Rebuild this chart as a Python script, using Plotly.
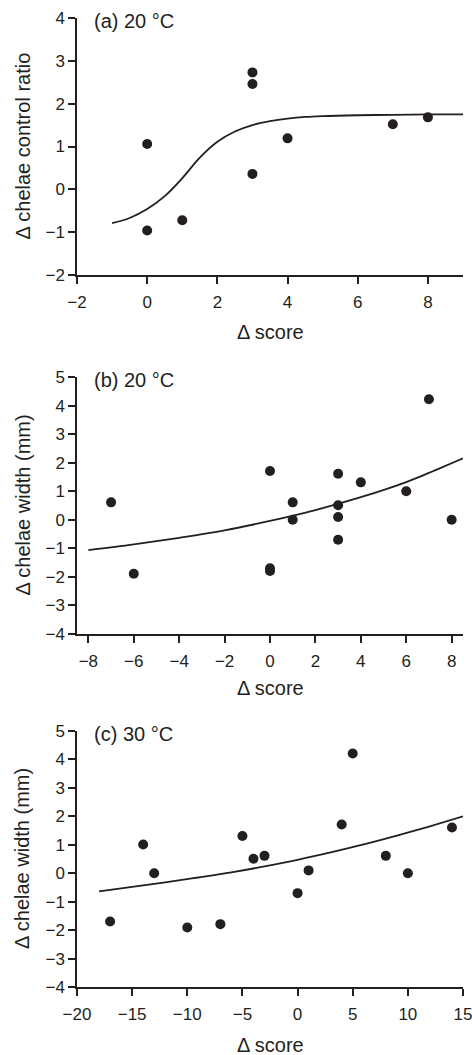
import plotly.graph_objects as go

# ---------------- data ----------------
# Panel (a) 20 °C : Δ score vs Δ chelae control ratio
a_score = [0, 0, 1, 3, 3, 3, 4, 7, 8]
a_ratio = [1.06, -0.96, -0.72, 2.73, 2.46, 0.36, 1.19, 1.52, 1.68]
a_fit_x = [-1, -0.5, 0, 0.5, 1, 1.5, 2, 2.5, 3, 3.5, 4, 4.5, 5, 6, 7, 8, 9]
a_fit_y = [-0.79, -0.67, -0.46, -0.16, 0.26, 0.74, 1.11, 1.35, 1.50, 1.59, 1.65, 1.69, 1.71, 1.73, 1.74, 1.75, 1.75]

# Panel (b) 20 °C : Δ score vs Δ chelae width (mm)
b_score = [-7, -6, 0, 0, 0, 1, 1, 3, 3, 3, 3, 4, 6, 7, 8]
b_width = [0.61, -1.89, 1.71, -1.70, -1.79, 0.61, 0.0, 1.61, 0.51, 0.10, -0.70, 1.31, 1.00, 4.22, 0.0]
b_fit_x = [-8, -6, -4, -2, 0, 2, 4, 6, 7, 8.5]
b_fit_y = [-1.06, -0.86, -0.63, -0.37, -0.04, 0.34, 0.79, 1.32, 1.64, 2.15]

# Panel (c) 30 °C : Δ score vs Δ chelae width (mm)
c_score = [-17, -14, -13, -10, -7, -5, -4, -3, 0, 1, 4, 5, 8, 10, 14]
c_width = [-1.70, 1.01, 0.0, -1.91, -1.79, 1.31, 0.51, 0.61, -0.70, 0.10, 1.71, 4.21, 0.61, 0.0, 1.61]
c_fit_x = [-18, -15, -12, -9, -6, -3, 0, 3, 6, 9, 12, 15]
c_fit_y = [-0.64, -0.48, -0.32, -0.15, 0.03, 0.24, 0.47, 0.73, 1.01, 1.32, 1.65, 2.0]

# tick values
a_xticks = [-2, 0, 2, 4, 6, 8]
b_xticks = [-8, -6, -4, -2, 0, 2, 4, 6, 8]
c_xticks = [-20, -15, -10, -5, 0, 5, 10, 15]
a_yticks = [-2, -1, 0, 1, 2, 3, 4]
bc_yticks = [-4, -3, -2, -1, 0, 1, 2, 3, 4, 5]

panel_labels = ["(a) 20 °C", "(b) 20 °C", "(c) 30 °C"]
y_titles = ["Δ chelae control ratio", "Δ chelae width (mm)", "Δ chelae width (mm)"]
x_title = "Δ score"

# ---------------- styling ----------------
INK = "#231f20"
FONT = "Liberation Sans, Arial, Helvetica, sans-serif"
W, H = 472, 1055
ML, MR, MT, MB = 77, 9, 18, 68
plot_h = H - MT - MB

def pdom(top_px, bot_px):
    return [1 - (bot_px - MT) / plot_h, 1 - (top_px - MT) / plot_h]

domains = [pdom(18, 275), pdom(377, 634), pdom(731, 987)]
xranges = [[-2, 9], [-8.5, 8.5], [-20, 15]]
xticks = [a_xticks, b_xticks, c_xticks]
yticks = [a_yticks, bc_yticks, bc_yticks]
yranges = [[-2, 4], [-4, 5], [-4, 5]]
xtitle_offsets = [57, 54, 58]

fig = go.Figure()

data_sets = [
    (a_score, a_ratio, a_fit_x, a_fit_y),
    (b_score, b_width, b_fit_x, b_fit_y),
    (c_score, c_width, c_fit_x, c_fit_y),
]

annotations = []
for i, (sx, sy, fx, fy) in enumerate(data_sets):
    xa = "x" if i == 0 else f"x{i+1}"
    ya = "y" if i == 0 else f"y{i+1}"
    fig.add_trace(go.Scatter(x=fx, y=fy, mode="lines", line=dict(color=INK, width=1.8, shape="spline", smoothing=1.0),
                             xaxis=xa, yaxis=ya, showlegend=False, hoverinfo="skip", cliponaxis=False))
    fig.add_trace(go.Scatter(x=sx, y=sy, mode="markers", marker=dict(color=INK, size=10),
                             xaxis=xa, yaxis=ya, showlegend=False))

    axis_common = dict(showline=True, linecolor=INK, linewidth=1.5, ticks="outside", ticklen=7,
                       tickwidth=1.5, tickcolor=INK, showgrid=False, zeroline=False,
                       automargin=False, ticklabeloverflow="allow",
                       tickfont=dict(family=FONT, size=17, color=INK))
    xkey = "xaxis" if i == 0 else f"xaxis{i+1}"
    ykey = "yaxis" if i == 0 else f"yaxis{i+1}"
    fig.update_layout({
        xkey: dict(axis_common, domain=[0, 1], range=xranges[i], tickmode="array", tickvals=xticks[i],
                   anchor=ya, ticklabelstandoff=4),
        ykey: dict(axis_common, domain=domains[i], range=yranges[i], tickmode="array", tickvals=yticks[i],
                   anchor=xa),
    })

    top = domains[i][1]
    bot = domains[i][0]
    mid = (top + bot) / 2
    annotations.append(dict(text=panel_labels[i], xref="paper", yref="paper", x=0, y=top, xshift=15, yshift=-3,
                            xanchor="left", yanchor="middle", showarrow=False,
                            font=dict(family=FONT, size=20, color=INK)))
    annotations.append(dict(text=y_titles[i], xref="paper", yref="paper", x=0, y=mid, xshift=-55,
                            xanchor="center", yanchor="middle", textangle=-90, showarrow=False,
                            font=dict(family=FONT, size=20, color=INK)))
    annotations.append(dict(text=x_title, xref="paper", yref="paper", x=0.5, y=bot, yshift=-xtitle_offsets[i],
                            xanchor="center", yanchor="middle", showarrow=False,
                            font=dict(family=FONT, size=20, color=INK)))

fig.update_layout(width=W, height=H, margin=dict(l=ML, r=MR, t=MT, b=MB, autoexpand=False),
                  paper_bgcolor="white", plot_bgcolor="white", annotations=annotations,
                  font=dict(family=FONT, color=INK))

fig.write_html("out.html", config={"displayModeBar": False},
               post_script="document.body.style.margin='0';document.body.style.overflow='hidden';")
